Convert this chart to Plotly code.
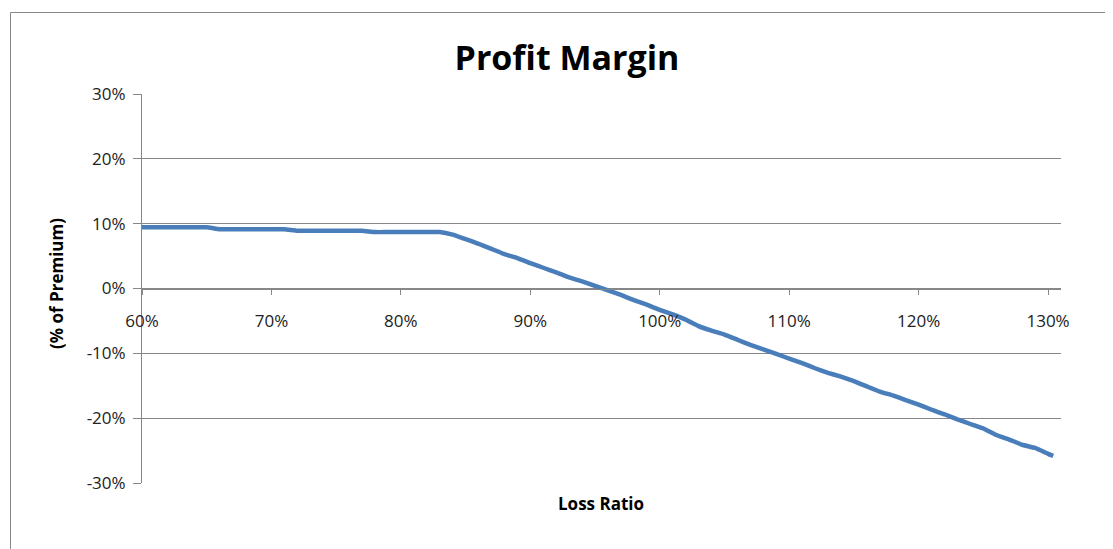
import plotly.graph_objects as go

loss_ratio = [0.60, 0.61, 0.62, 0.63, 0.64, 0.65, 0.66, 0.67, 0.68, 0.69, 0.70,
              0.71, 0.72, 0.73, 0.74, 0.75, 0.76, 0.77, 0.78, 0.79, 0.80,
              0.81, 0.82, 0.83, 0.84, 0.85, 0.86, 0.87, 0.88, 0.89, 0.90,
              0.91, 0.92, 0.93, 0.94, 0.95, 0.96, 0.97, 0.98, 0.99, 1.00,
              1.01, 1.02, 1.03, 1.04, 1.05, 1.06, 1.07, 1.08, 1.09, 1.10,
              1.11, 1.12, 1.13, 1.14, 1.15, 1.16, 1.17, 1.18, 1.19, 1.20,
              1.21, 1.22, 1.23, 1.24, 1.25, 1.26, 1.27, 1.28, 1.29, 1.30, 1.304]
profit_margin = [0.0945, 0.0945, 0.0945, 0.0945, 0.0945, 0.0945, 0.0915, 0.0915, 0.0915, 0.0915, 0.0915,
                 0.0915, 0.089, 0.089, 0.089, 0.089, 0.089, 0.089, 0.087, 0.087, 0.087,
                 0.087, 0.087, 0.087, 0.083, 0.076, 0.069, 0.061, 0.053, 0.047, 0.039,
                 0.032, 0.025, 0.017, 0.011, 0.004, -0.003, -0.010, -0.018, -0.025, -0.033,
                 -0.040, -0.048, -0.058, -0.065, -0.071, -0.079, -0.087, -0.094, -0.101, -0.108,
                 -0.115, -0.123, -0.130, -0.136, -0.143, -0.151, -0.159, -0.165, -0.172, -0.179,
                 -0.187, -0.194, -0.202, -0.209, -0.216, -0.226, -0.233, -0.241, -0.246, -0.255, -0.258]

x_ticks = [0.6, 0.7, 0.8, 0.9, 1.0, 1.1, 1.2, 1.3]
x_tick_labels = ["60%", "70%", "80%", "90%", "100%", "110%", "120%", "130%"]
y_ticks = [-0.3, -0.2, -0.1, 0.0, 0.1, 0.2, 0.3]
y_tick_labels = ["-30%", "-20%", "-10%", "0%", "10%", "20%", "30%"]

# page body adds an 8px offset; figure is sized so the reference pixel grid matches
OFF = 8
W, H = 1113 - OFF, 549 - OFF
L, T = 142 - OFF, 94 - OFF
R = W - (1061 - OFF)
B = H - (483 - OFF)
pw, ph = W - L - R, H - T - B

def px_x(p):
    return (p - OFF - L) / pw

def px_y(p):
    return (H - B - (p - OFF)) / ph

fig = go.Figure()
fig.add_trace(go.Scatter(
    x=loss_ratio, y=profit_margin, mode="lines",
    line=dict(color="#4A7EBB", width=4.5, shape="spline", smoothing=0.3),
    showlegend=False, hoverinfo="x+y",
))

grey = "#878787"
tick_font = dict(family="Open Sans", size=17, color="#222222")

fig.update_layout(
    width=W, height=H,
    margin=dict(l=L, r=R, t=T, b=B, pad=0),
    paper_bgcolor="white", plot_bgcolor="white",
    title=dict(text="<b>Profit Margin</b>", x=(567 - OFF) / W, xanchor="center",
               y=1 - (58 - OFF) / H, yanchor="middle",
               font=dict(family="Open Sans", size=34, color="#000000")),
    xaxis=dict(
        range=[0.6, 1.31], tickvals=x_ticks, ticktext=x_tick_labels,
        showgrid=False, zeroline=False, showline=True, linecolor=grey, linewidth=1,
        ticks="outside", ticklen=5, tickcolor=grey, tickwidth=1,
        anchor="free", position=0.5, ticklabelstandoff=12,
        tickfont=tick_font,
    ),
    yaxis=dict(
        range=[-0.3, 0.3], tickvals=y_ticks, ticktext=y_tick_labels,
        showgrid=True, gridcolor=grey, gridwidth=1, zeroline=False,
        showline=True, linecolor=grey, linewidth=1,
        ticks="outside", ticklen=8, tickcolor=grey, tickwidth=1,
        ticklabelstandoff=4, tickfont=tick_font,
    ),
    shapes=[dict(type="rect", xref="paper", yref="paper",
                 x0=px_x(10.5), x1=px_x(1140), y0=px_y(580), y1=px_y(12.5),
                 line=dict(color=grey, width=1), fillcolor="rgba(0,0,0,0)", layer="below")],
    annotations=[
        dict(text="<b>Loss Ratio</b>", xref="paper", yref="paper",
             x=px_x(601), y=px_y(503), xanchor="center", yanchor="middle", showarrow=False,
             font=dict(family="Open Sans", size=17, color="#000000")),
        dict(text="<b>(% of Premium)</b>", xref="paper", yref="paper", textangle=-90,
             x=px_x(56), y=px_y(284), xanchor="center", yanchor="middle", showarrow=False,
             font=dict(family="Open Sans", size=17, color="#000000")),
    ],
)

fig.write_html("out.html")
